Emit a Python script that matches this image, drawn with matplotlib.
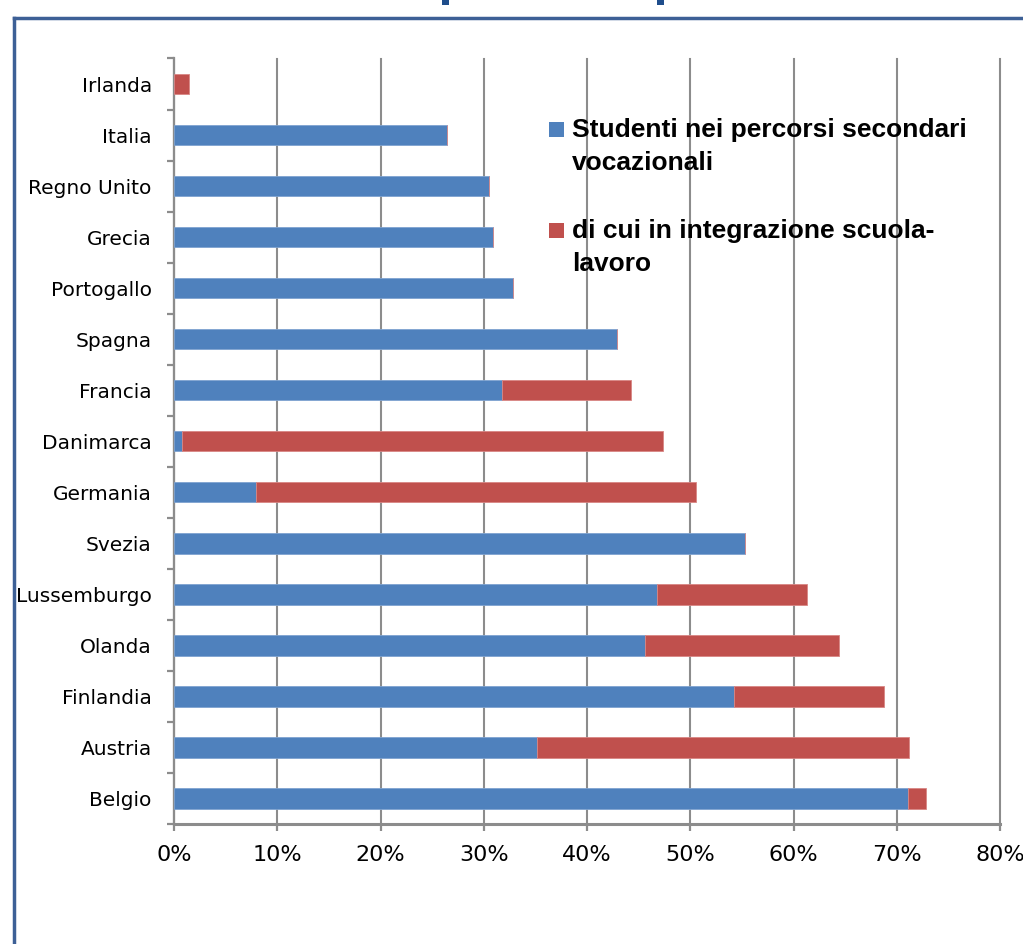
import matplotlib
matplotlib.use("Agg")
import matplotlib.pyplot as plt
from matplotlib.patches import Rectangle
from matplotlib.lines import Line2D
from matplotlib.ticker import FixedLocator, PercentFormatter

# data (percent of students)
countries = ["Irlanda", "Italia", "Regno Unito", "Grecia", "Portogallo", "Spagna",
             "Francia", "Danimarca", "Germania", "Svezia", "Lussemburgo", "Olanda",
             "Finlandia", "Austria", "Belgio"]
vocational = [0.0, 26.4, 30.5, 30.9, 32.8, 42.9, 31.8, 0.8, 7.9, 55.3, 46.8, 45.6, 54.2, 35.2, 71.1]
work_based = [1.45, 0.0, 0.0, 0.0, 0.0, 0.0, 12.5, 46.6, 42.7, 0.0, 14.5, 18.8, 14.6, 36.0, 1.7]
series_names = ["Studenti nei percorsi secondari\nvocazionali",
                "di cui in integrazione scuola-\nlavoro"]
colors = ["#4F81BD", "#C0504D"]

W, H = 1023, 944
fig = plt.figure(figsize=(W / 100, H / 100), dpi=100)
ax = fig.add_axes([174 / W, 1 - 824 / H, (1000 - 174) / W, (824 - 58.5) / H])

ypos = list(range(len(countries)))
ax.barh(ypos, vocational, height=0.4, color=colors[0], edgecolor="#7FA3D0", linewidth=0.6, zorder=3)
ax.barh(ypos, work_based, left=vocational, height=0.4, color=colors[1],
        edgecolor="#D88684", linewidth=0.6, zorder=3)

ax.set_xlim(0, 80)
ax.set_ylim(len(countries) - 0.5, -0.5)
ax.xaxis.set_major_locator(FixedLocator(range(0, 81, 10)))
ax.xaxis.set_major_formatter(PercentFormatter(decimals=0))
ax.set_yticks(ypos)
ax.set_yticklabels(countries)
ax.yaxis.set_minor_locator(FixedLocator([i - 0.5 for i in range(len(countries) + 1)]))

gray = "#8C8C8C"
ax.grid(axis="x", color=gray, linewidth=1.5, zorder=0)
for gl in ax.get_xgridlines():
    gl.set_clip_on(False)
for side in ["top", "right"]:
    ax.spines[side].set_visible(False)
ax.spines["left"].set_color(gray)
ax.spines["left"].set_linewidth(1.6)
ax.spines["bottom"].set_color(gray)
ax.spines["bottom"].set_linewidth(2.2)

ax.tick_params(axis="y", which="major", length=0, pad=16, labelsize=14.5)
ax.tick_params(axis="y", which="minor", length=5, width=1.6, color=gray)
ax.tick_params(axis="x", which="major", length=5, width=1.6, color=gray, pad=10, labelsize=16)
for lab in ax.get_yticklabels() + ax.get_xticklabels():
    lab.set_fontfamily("DejaVu Sans")
    lab.set_clip_on(False)

# legend, drawn in pixel positions so the squares sit on the first line
leg_y = [129, 230]
for name, col, yy in zip(series_names, colors, leg_y):
    fig.add_artist(Rectangle((549 / W, 1 - (yy + 8) / H), 15 / W, 15 / H,
                             transform=fig.transFigure, facecolor=col, edgecolor="none"))
    fig.text(572 / W, 1 - (yy - 11) / H, name, ha="left", va="top", fontsize=19,
             fontweight="bold", family="Liberation Sans", linespacing=1.45)

# slide frame and the cut-off title above it
frame = "#3D6096"
fig.add_artist(Line2D([14 / W, 14 / W], [0, 1 - 18 / H], transform=fig.transFigure,
                      color=frame, linewidth=2.5))
fig.add_artist(Line2D([14 / W, 1], [1 - 18 / H, 1 - 18 / H], transform=fig.transFigure,
                      color=frame, linewidth=2.5))
for xx in [442, 657]:
    fig.add_artist(Rectangle((xx / W, 1 - 5 / H), 7 / W, 5 / H, transform=fig.transFigure,
                             facecolor="#1F4E8C", edgecolor="none"))

fig.savefig("out.png", dpi=100)
